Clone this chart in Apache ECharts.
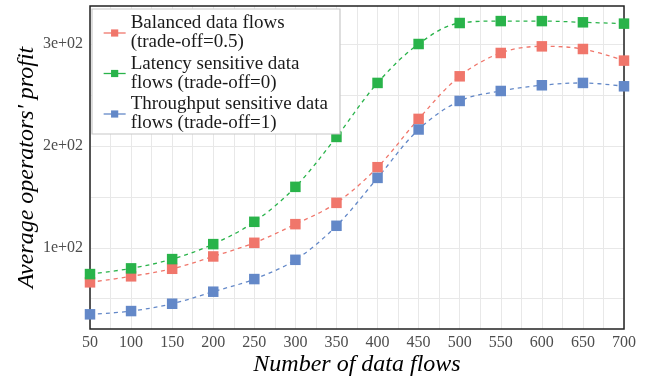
<!DOCTYPE html>
<html>
<head>
<meta charset="utf-8">
<script src="https://cdn.jsdelivr.net/npm/echarts@6/dist/echarts.min.js"></script>
<style>
html,body{margin:0;padding:0;background:#fff;}
#chart{width:651px;height:378px;}
</style>
</head>
<body>
<div id="chart"></div>
<script>
var flows = [50,100,150,200,250,300,350,400,450,500,550,600,650,700];
var balanced = [66.1,72,79.4,91.5,104.9,123.2,144.1,179.1,226.5,268.3,291.2,297.7,295.1,283.7];
var latency = [74.2,79.8,88.9,103.6,125.5,159.8,208.8,261.8,300,320.6,322.5,322.5,321.3,320];
var throughput = [34.7,37.9,45.1,56.9,69.3,88.2,121.6,168.6,216.1,244.1,253.9,259.5,261.8,258.5];
var yLabelValues = [100,200,300];
var yGridValues = [50,100,150,200,250,300];
var seriesNames = ['Balanced data flows\n(trade-off=0.5)','Latency sensitive data\nflows (trade-off=0)','Throughput sensitive data\nflows (trade-off=1)'];
var colors = ['#F0766B','#29B34A','#6388C8'];

function pairs(ys){ return flows.map(function(x,i){ return [x, ys[i]]; }); }
var serif = 'Liberation Serif';
var chart = echarts.init(document.getElementById('chart'), null, {renderer:'canvas'});
var dataSets = [balanced, latency, throughput];
var series = dataSets.map(function(d,i){
  return {
    name: seriesNames[i],
    type: 'line',
    data: pairs(d),
    smooth: 0.35,
    symbol: 'rect',
    symbolSize: 10.5,
    color: colors[i],
    itemStyle: {color: colors[i]},
    lineStyle: {color: colors[i], width: 1.3, type: [4,4]},
    clip: true
  };
});
chart.setOption({
  animation: false,
  backgroundColor: '#fff',
  grid: {left: 90, right: 27, top: 6, bottom: 49, outerBoundsMode: 'none', containLabel: false, show: true, borderColor: '#222', borderWidth: 1.5, backgroundColor: 'transparent', z: 3},
  xAxis: {
    type: 'value', min: 50, max: 700, interval: 25,
    name: 'Number of data flows', nameLocation: 'middle', nameGap: 24, nameMoveOverlap: false,
    nameTextStyle: {fontFamily: serif, fontStyle: 'italic', fontSize: 24, color: '#000'},
    axisLine: {show: false}, axisTick: {show: false},
    axisLabel: {fontFamily: serif, fontSize: 16, color: '#4d4d4d', margin: 6, showMinLabel: true, showMaxLabel: true,
      formatter: function(v){ return (v % 50 === 0) ? String(v) : ''; }},
    splitLine: {show: true, lineStyle: {color: '#e8e8e8', width: 1}}
  },
  yAxis: {
    type: 'value', min: 20.3, max: 337.3,
    name: "Average operators' profit", nameLocation: 'middle', nameGap: 51, nameMoveOverlap: false,
    nameTextStyle: {fontFamily: serif, fontStyle: 'italic', fontSize: 24, color: '#000'},
    axisLine: {show: false},
    axisTick: {show: false, customValues: yGridValues},
    axisLabel: {customValues: yLabelValues, fontFamily: serif, fontSize: 16, color: '#4d4d4d', margin: 7,
      formatter: function(v){ return (v/100) + 'e+02'; }},
    splitLine: {show: true, lineStyle: {color: '#e8e8e8', width: 1}}
  },
  legend: {
    orient: 'vertical', left: 92, top: 9,
    backgroundColor: '#fff', borderColor: '#c8c8c8', borderWidth: 1.2, borderRadius: 0,
    padding: [5, 12, 1, 11], itemGap: 2.5, itemWidth: 22, itemHeight: 9,
    lineStyle: {type: 'solid', width: 1.3},
    textStyle: {fontFamily: serif, fontSize: 19, lineHeight: 19, color: '#1a1a1a'},
    data: seriesNames
  },
  series: series
});
</script>
</body>
</html>
